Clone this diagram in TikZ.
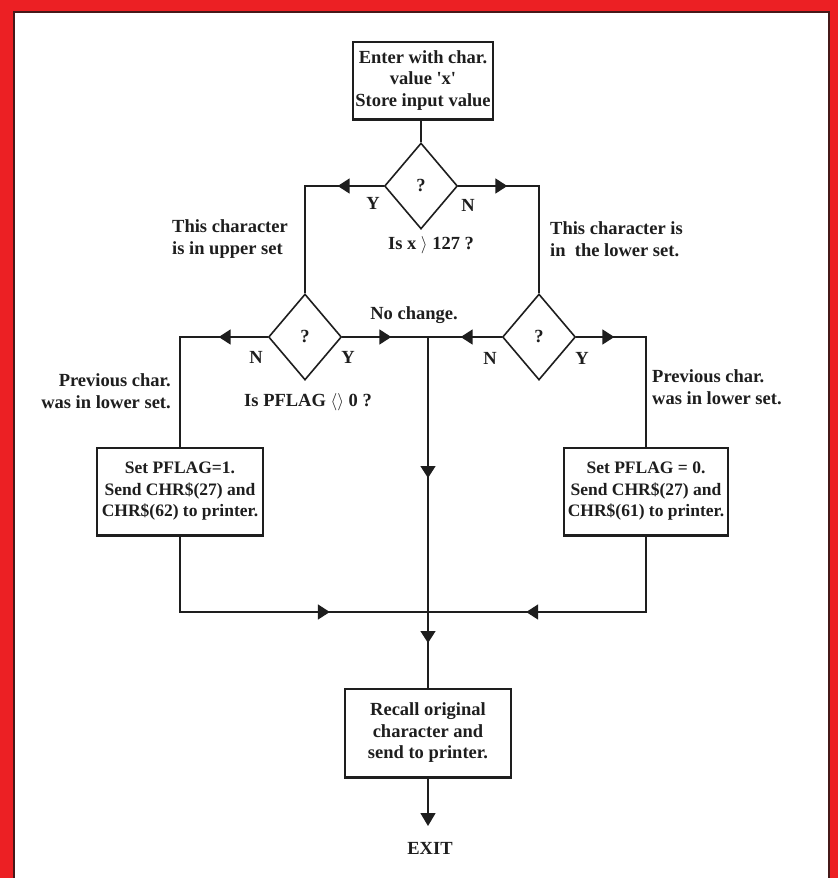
\documentclass[tikz,border=0pt]{standalone}
\usepackage{fontspec}
\setmainfont{Liberation Serif}
\usetikzlibrary{shapes.geometric,arrows.meta,decorations.markings}
\definecolor{frame}{RGB}{236,32,36}
\definecolor{frameedge}{RGB}{70,25,25}
\definecolor{ink}{RGB}{30,30,30}
\begin{document}
\begin{tikzpicture}[x=1pt,y=-1pt,
  txt/.style={font=\bfseries\fontsize{18.5}{21.5}\selectfont, inner sep=0pt, text=ink},
  small/.style={font=\bfseries\fontsize{17.5}{21.5}\selectfont},
  boxnode/.style 2 args={draw=ink, line width=1.6pt, txt, align=center, minimum width=#1, minimum height=#2},
  dia/.style={diamond, draw=ink, line width=1.6pt, txt, minimum width=73pt, minimum height=86pt},
  conn/.style={draw=ink, line width=1.8pt},
  am/.style={postaction={decorate}, decoration={markings, mark=at position #1 with {\arrow{Triangle[length=12pt,width=15pt]}}}}]
\useasboundingbox (0,0) rectangle (838,878);
\fill[frame] (0,0) rectangle (838,878);
\fill[white] (14,12) rectangle (829,878);
\draw[frameedge, line width=2pt] (14,878) -- (14,12) -- (829,12) -- (829,878);

% boxes and decisions
\node[boxnode={140pt}{77pt}] (start) at (423,80.5) {Enter with char.\\ value \textquotesingle x\textquotesingle\\ Store input value};
\node[dia] (d1) at (421,186) {?};
\node[dia] (d2) at (305,337) {?};
\node[dia] (d3) at (539,337) {?};
\node[boxnode={166pt}{87pt}, small] (lbox) at (180,491.5) {Set PFLAG=1.\\Send CHR\$(27) and\\CHR\$(62) to printer.};
\node[boxnode={164pt}{87pt}, small] (rbox) at (646,491.5) {Set PFLAG = 0.\\Send CHR\$(27) and\\CHR\$(61) to printer.};
\node[boxnode={166pt}{88pt}] (recall) at (428,733) {Recall original\\character and\\send to printer.};
\node[txt] (exit) at (430,848) {EXIT};
\coordinate (J) at (428,337);
\coordinate (K) at (428,612);
\coordinate (xe) at (428,826);

% heavier bottom edges of boxes
\foreach \b in {start,lbox,rbox,recall}
  \draw[ink, line width=3pt] (\b.south west) -- (\b.south east);

% connectors
\draw[conn] (d1.north |- start.south) -- (d1.north);
\draw[conn, am=46pt] (d1.west) -| (d2.north);
\draw[conn, am=49pt] (d1.east) -| (d3.north);
\draw[conn, am=49pt] (d2.west) -| (lbox.north);
\draw[conn, am=49pt] (d2.east) -- (J);
\draw[conn, am=41pt] (d3.west) -- (J);
\draw[conn, am=38pt] (d3.east) -| (rbox.north);
\draw[conn, line width=1.4pt, am=141pt] (J) -- (K);
\draw[conn, line width=1.4pt, am=31pt] (K) -- (recall.north);
\draw[conn, am=226pt] (lbox.south) |- (K);
\draw[conn, am=196pt] (rbox.south) |- (K);
\draw[conn, line width=1.4pt, -{Triangle[length=13pt,width=15pt]}] (recall.south) -- (xe);

% labels
\node[txt] (y1) at (373,203) {Y};
\node[txt] (n1) at (468,205) {N};
\node[txt] (q1) at (431,245) {Is x $\rangle$ 127 ?};
\node[txt, align=left, anchor=west] (up) at (172,239) {This character\\is in upper set};
\node[txt, align=left, anchor=west] (lo) at (550,239) {This character is\\in\ \ the lower set.};
\node[txt] (nc) at (414,315) {No change.};
\node[txt] (n2) at (256,357) {N};
\node[txt] (y2) at (348,357) {Y};
\node[txt] (q2) at (308,402) {Is PFLAG $\langle\rangle$ 0 ?};
\node[txt] (n3) at (490,358) {N};
\node[txt] (y3) at (582,358) {Y};
\node[txt, align=right, anchor=east] (pl) at (171,391) {Previous char.\\was in lower set.};
\node[txt, align=left, anchor=west] (pr) at (652,387) {Previous char.\\was in lower set.};
\end{tikzpicture}
\end{document}
